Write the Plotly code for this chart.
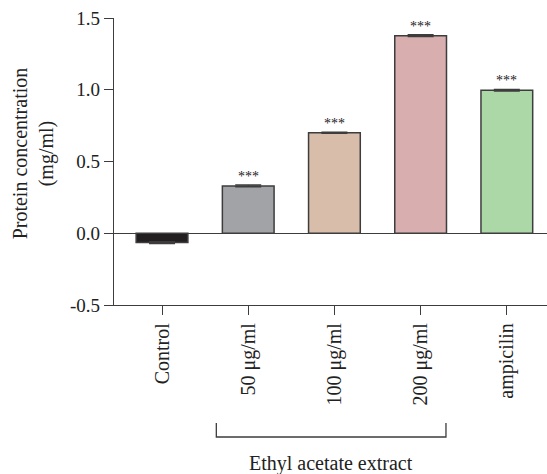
import plotly.graph_objects as go

categories = ["Control", "50 μg/ml", "100 μg/ml", "200 μg/ml", "ampicilin"]
values = [-0.065, 0.33, 0.70, 1.377, 0.997]
errors = [0.006, 0.006, 0.004, 0.006, 0.005]
colors = ["#231f20", "#a2a3a6", "#d9bdab", "#d8aeaf", "#acd8a8"]
stars = ["", "***", "***", "***", "***"]
group_label = "Ethyl acetate extract"
y_title = "Protein concentration<br>(mg/ml)"

FONT = "Liberation Serif, Times New Roman, serif"

fig = go.Figure()
fig.add_trace(go.Bar(
    x=list(range(len(categories))), y=values, width=0.6,
    marker=dict(color=colors, line=dict(color="#3d3d3d", width=1.5)),
    error_y=dict(type="data", array=errors, visible=True, color="#3d3d3d",
                 thickness=1.5, width=13),
    showlegend=False,
))

for i, (v, e, s) in enumerate(zip(values, errors, stars)):
    if s:
        fig.add_annotation(x=i, y=v + e, text=s, showarrow=False,
                           xref="x", yref="y", yanchor="bottom", yshift=-1,
                           font=dict(family=FONT, size=14, color="#222"))

# bracket for extract group
fig.add_shape(type="path", xref="x", yref="paper",
              path="M 0.63,-0.411 L 0.63,-0.46 L 3.294,-0.46 L 3.294,-0.411",
              line=dict(color="#3d3d3d", width=1.3))
fig.add_annotation(x=1.96, y=-0.552, xref="x", yref="paper", text=group_label,
                   showarrow=False, yanchor="middle",
                   font=dict(family=FONT, size=20, color="#222"))

# y axis title
fig.add_annotation(x=-0.186, y=0.53, xref="paper", yref="paper", text=y_title,
                   showarrow=False, textangle=-90, xanchor="center", yanchor="middle",
                   font=dict(family=FONT, size=20, color="#222"))

fig.update_layout(
    width=547, height=474,
    margin=dict(l=114, r=0, t=18, b=169),
    plot_bgcolor="white", paper_bgcolor="white",
    font=dict(family=FONT, size=19, color="#222"),
    xaxis=dict(
        range=[-0.557, 4.466], tickmode="array",
        tickvals=list(range(len(categories))), ticktext=categories,
        tickangle=-90, showline=True, linecolor="#3d3d3d", linewidth=1.3,
        ticks="outside", ticklen=9, tickwidth=1.3, tickcolor="#3d3d3d",
        showgrid=False, zeroline=False,
        tickfont=dict(family=FONT, size=20, color="#222"),
    ),
    yaxis=dict(
        range=[-0.5, 1.5], tickmode="array", tickvals=[-0.5, 0, 0.5, 1.0, 1.5],
        ticktext=["-0.5", "0.0", "0.5", "1.0", "1.5"],
        showline=True, linecolor="#3d3d3d", linewidth=1.3,
        ticks="outside", ticklen=9, tickwidth=1.3, tickcolor="#3d3d3d",
        showgrid=False, zeroline=True, zerolinecolor="#3d3d3d", zerolinewidth=1.3,
        tickfont=dict(family=FONT, size=19, color="#222"),
    ),
)

fig.write_html("out.html")
